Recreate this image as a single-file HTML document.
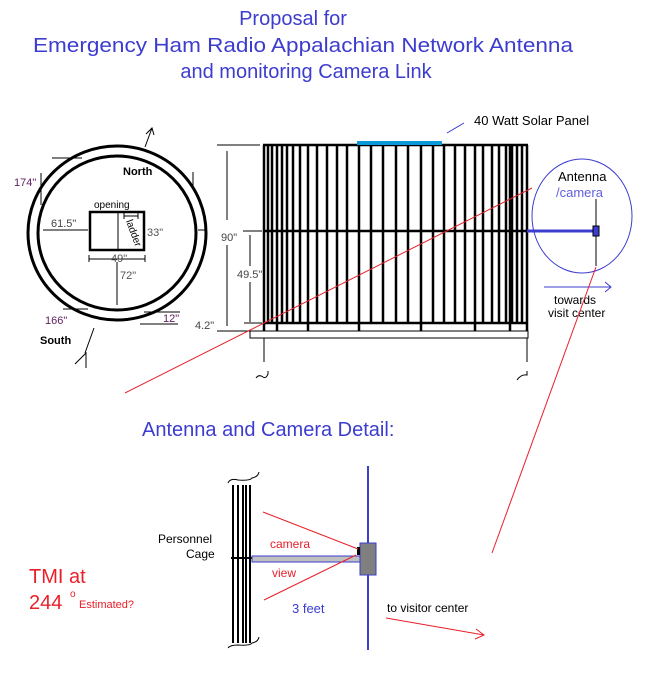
<!DOCTYPE html>
<html><head><meta charset="utf-8"><style>
html,body{margin:0;padding:0;background:#fff;width:660px;height:675px;overflow:hidden}
svg{display:block}
text{font-family:"Liberation Sans",Arial,sans-serif}
</style></head><body>
<svg width="660" height="675" viewBox="0 0 660 675" xmlns="http://www.w3.org/2000/svg">
<!-- Title -->
<g fill="#3c3ccf" font-size="20" text-anchor="middle">
<text x="293" y="25">Proposal for</text>
<text x="303" y="52" textLength="540" lengthAdjust="spacingAndGlyphs">Emergency Ham Radio Appalachian Network Antenna</text>
<text x="306" y="78">and monitoring Camera Link</text>
</g>

<!-- Plan circle -->
<g fill="none" stroke="#000" stroke-width="3">
<ellipse cx="117" cy="233" rx="89" ry="87"/>
<ellipse cx="117" cy="233" rx="79" ry="77"/>
<rect x="90" y="212" width="54" height="38" stroke-width="2.5"/>
</g>
<g stroke="#000" stroke-width="1" fill="none">
<line x1="90" y1="212" x2="118" y2="212" stroke-dasharray="1,1"/>
<line x1="118" y1="213" x2="118" y2="249"/>
<line x1="124" y1="216" x2="138" y2="216"/><line x1="124" y1="213" x2="124" y2="219"/><line x1="138" y1="213" x2="138" y2="219"/>
<line x1="43" y1="230" x2="88" y2="230"/>
<line x1="198" y1="230" x2="205" y2="230"/>
<line x1="89" y1="259" x2="145" y2="259"/><line x1="89" y1="255" x2="89" y2="262"/><line x1="145" y1="255" x2="145" y2="262"/>
<line x1="117" y1="262" x2="117" y2="305"/>
<line x1="52" y1="158" x2="82" y2="158"/>
<line x1="41" y1="173" x2="41" y2="205"/>
<line x1="193" y1="172" x2="193" y2="190"/>
<line x1="63" y1="309" x2="88" y2="309"/>
<line x1="144" y1="312" x2="180" y2="312"/>
<line x1="140" y1="324" x2="178" y2="324"/>
<line x1="145" y1="147" x2="152" y2="128"/><polyline points="146,134 152,128 154,135"/>
<line x1="94" y1="328" x2="85" y2="353"/><polyline points="75,364 86,353 86,368"/>
</g>
<g font-size="11">
<text x="94" y="208" font-size="10">opening</text>
<text x="126" y="221" font-size="10" transform="rotate(70 126 221)">ladder</text>
<text x="147" y="236" fill="#555">33"</text>
<text x="111" y="262" fill="#555">49"</text>
<text x="120" y="279" fill="#555">72"</text>
<text x="51" y="227" fill="#444">61.5"</text>
<text x="14" y="186" fill="#602060">174"</text>
<text x="45" y="324" fill="#602060">166"</text>
<text x="163" y="322" fill="#602060">12"</text>
<text x="123" y="175" font-weight="bold">North</text>
<text x="40" y="344" font-weight="bold">South</text>
<text x="221" y="241" fill="#444">90"</text>
<text x="237" y="278" fill="#444">49.5"</text>
<text x="195" y="329" fill="#444">4.2"</text>
</g>

<!-- Cage -->
<g stroke="#000" fill="none" stroke-width="1">
<line x1="217" y1="145" x2="260" y2="145"/>
<line x1="227" y1="151" x2="227" y2="220"/><line x1="227" y1="245" x2="227" y2="326"/>
<line x1="243" y1="231" x2="262" y2="231"/>
<line x1="250" y1="235" x2="250" y2="266"/><line x1="250" y1="282" x2="250" y2="322"/>
<line x1="244" y1="323" x2="262" y2="323"/>
<line x1="217" y1="331" x2="265" y2="331"/>
<rect x="250" y="331" width="278" height="7"/>
<line x1="264" y1="338" x2="264" y2="362"/><line x1="527" y1="338" x2="527" y2="362"/>
<path d="M256 378 q3 -4 7 -1 q3 2 5 -3 v-3"/>
<path d="M517 380 q4 -6 10 -5 v-4"/>
</g>
<g stroke="#000" stroke-width="2.5">
<line x1="264" y1="145" x2="264" y2="331"/>
<line x1="268" y1="145" x2="268" y2="323"/>
<line x1="272" y1="145" x2="272" y2="323"/>
<line x1="277" y1="145" x2="277" y2="331"/>
<line x1="282" y1="145" x2="282" y2="323"/>
<line x1="287" y1="145" x2="287" y2="323"/>
<line x1="293" y1="145" x2="293" y2="323"/>
<line x1="300" y1="145" x2="300" y2="323"/>
<line x1="308" y1="145" x2="308" y2="331"/>
<line x1="317" y1="145" x2="317" y2="323"/>
<line x1="327" y1="145" x2="327" y2="323"/>
<line x1="337" y1="145" x2="337" y2="323"/>
<line x1="347" y1="145" x2="347" y2="323"/>
<line x1="359" y1="145" x2="359" y2="331"/>
<line x1="371" y1="145" x2="371" y2="323"/>
<line x1="383" y1="145" x2="383" y2="323"/>
<line x1="396" y1="145" x2="396" y2="323"/>
<line x1="408" y1="145" x2="408" y2="323"/>
<line x1="421" y1="145" x2="421" y2="331"/>
<line x1="433" y1="145" x2="433" y2="323"/>
<line x1="444" y1="145" x2="444" y2="323"/>
<line x1="455" y1="145" x2="455" y2="323"/>
<line x1="465" y1="145" x2="465" y2="323"/>
<line x1="475" y1="145" x2="475" y2="331"/>
<line x1="483" y1="145" x2="483" y2="323"/>
<line x1="492" y1="145" x2="492" y2="323"/>
<line x1="499" y1="145" x2="499" y2="323"/>
<line x1="506" y1="145" x2="506" y2="323"/>
<line x1="510" y1="145" x2="510" y2="331"/>
<line x1="512" y1="145" x2="512" y2="323"/>
<line x1="517" y1="145" x2="517" y2="323"/>
<line x1="522" y1="145" x2="522" y2="323"/>
<line x1="527" y1="145" x2="527" y2="331"/>
<line x1="263" y1="145" x2="528" y2="145"/>
<line x1="263" y1="231" x2="528" y2="231"/>
<line x1="263" y1="323" x2="528" y2="323"/>
</g>
<rect x="357" y="141" width="85" height="4" fill="#0a9ad8"/>
<line x1="447" y1="133" x2="464" y2="123" stroke="#3c3ccf" stroke-width="1"/>
<text x="474" y="125" font-size="13">40 Watt Solar Panel</text>

<!-- Antenna circle -->
<ellipse cx="582" cy="216" rx="50" ry="57" fill="none" stroke="#3c3ccf" stroke-width="1"/>
<line x1="527" y1="231" x2="596" y2="231" stroke="#3c3ccf" stroke-width="3"/>
<line x1="596" y1="199" x2="596" y2="266" stroke="#000" stroke-width="1"/>
<rect x="593" y="226" width="6" height="10" fill="#3c3ccf" stroke="#000" stroke-width="1"/>
<text x="558" y="181" font-size="13">Antenna</text>
<text x="556" y="197" font-size="13" fill="#6060e0">/camera</text>
<line x1="544" y1="287" x2="611" y2="287" stroke="#3c3ccf"/>
<polyline points="605,282 611,287 605,292" fill="none" stroke="#3c3ccf"/>
<text x="554" y="304" font-size="12">towards</text>
<text x="548" y="317" font-size="12">visit center</text>

<!-- red lines -->
<line x1="125" y1="393" x2="532" y2="188" stroke="#e8202a" stroke-width="1"/>
<line x1="596" y1="267" x2="492" y2="553" stroke="#e8202a" stroke-width="1"/>

<!-- Detail -->
<text x="142" y="436" font-size="20" fill="#3c3ccf">Antenna and Camera Detail:</text>
<g stroke="#000" stroke-width="2">
<line x1="233" y1="485" x2="233" y2="643"/><line x1="238" y1="485" x2="238" y2="643"/>
<line x1="243" y1="485" x2="243" y2="643"/><line x1="246" y1="485" x2="246" y2="643"/>
<line x1="250" y1="485" x2="250" y2="643"/>
<line x1="231" y1="558" x2="253" y2="558"/>
</g>
<g stroke="#000" fill="none" stroke-width="1">
<path d="M228 483 q2 -5 10 -3 q12 1 14 -2 q6 -1 7 -6"/>
<path d="M228 648 q2 -3 10 -3 q12 1 14 -2 q6 -1 7 -6"/>
</g>
<line x1="368" y1="466" x2="368" y2="650" stroke="#3c3ccf" stroke-width="2"/>
<rect x="252" y="556" width="108" height="6" fill="#c0c0c0" stroke="#3c3ccf" stroke-width="1"/>
<rect x="360" y="543" width="16" height="32" fill="#808080" stroke="#3c3ccf" stroke-width="1"/>
<rect x="357" y="547" width="3" height="8" fill="#000"/>
<line x1="263" y1="512" x2="358" y2="549" stroke="#e8202a"/>
<line x1="264" y1="600" x2="356" y2="555" stroke="#e8202a"/>
<text x="270" y="548" font-size="12" fill="#e8202a">camera</text>
<text x="272" y="577" font-size="12" fill="#e8202a">view</text>
<text x="158" y="543" font-size="12">Personnel</text>
<text x="186" y="558" font-size="12">Cage</text>
<text x="292" y="613" font-size="13" fill="#3c3ccf">3 feet</text>
<text x="387" y="612" font-size="12">to visitor center</text>
<line x1="386" y1="618" x2="484" y2="635" stroke="#e8202a"/>
<polyline points="476,629 484,635 475,639" fill="none" stroke="#e8202a"/>
<text x="29" y="583" font-size="20" fill="#e8202a">TMI at</text>
<text x="29" y="609" font-size="20" fill="#e8202a">244</text>
<text x="70" y="597" font-size="10" fill="#e8202a">o</text>
<text x="79" y="608" font-size="11" fill="#e8202a">Estimated?</text>
</svg>
</body></html>
